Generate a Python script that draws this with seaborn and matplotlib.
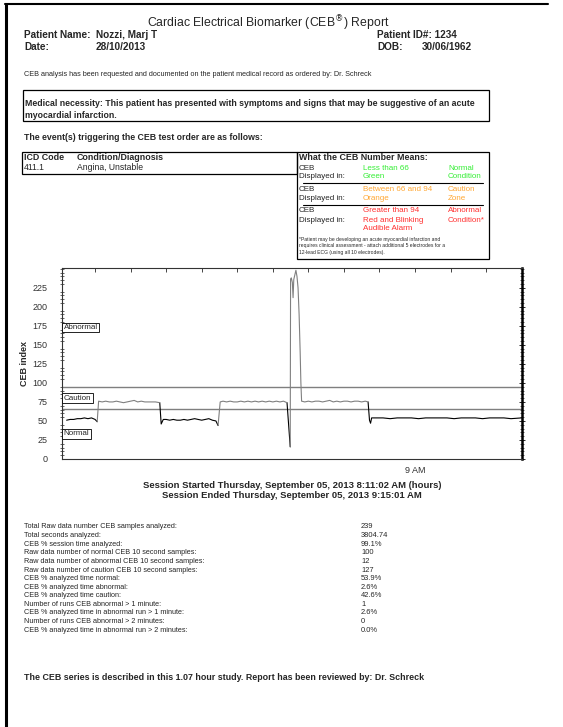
"""CEB report page: header text, legend tables, CEB index trace and summary stats."""
import matplotlib
matplotlib.use("Agg")
import matplotlib.pyplot as plt
import pandas as pd
import seaborn as sns
from matplotlib.patches import Rectangle
from matplotlib.ticker import FixedLocator, MultipleLocator

W, H = 563, 727

# CEB index trace, minutes after 8:00 AM
minutes = [
    11.0, 11.5, 12.0, 12.5, 13.0, 13.5, 14.0, 14.5, 15.0, 15.3,
    15.5, 16.0, 16.5, 17.0, 17.5, 18.0, 18.5, 19.0, 19.5, 20.0, 20.5, 21.0,
    21.5, 22.0, 22.5, 23.0, 23.5, 24.1,
    24.3, 24.6, 25.0, 25.5, 26.0, 26.5, 27.0, 27.5, 28.0, 28.5, 29.0, 29.5,
    30.0, 30.5, 31.0, 31.5, 32.0, 32.3,
    32.6, 33.0, 33.5, 34.0, 34.5, 35.0, 35.5, 36.0, 36.5, 37.0, 37.5, 38.0,
    38.5, 39.0, 39.5, 40.0, 40.5, 41.0, 41.5, 42.0,
    42.45, 42.5, 42.6, 42.75, 42.85, 42.95, 43.1, 43.25, 43.4, 43.55, 43.7,
    43.85, 43.95, 44.05,
    44.5, 45.0, 45.5, 46.0, 46.5, 47.0, 47.5, 48.0, 48.5, 49.0, 49.5, 50.0,
    50.5, 51.0, 51.5, 52.0, 52.5, 53.0, 53.4,
    53.6, 53.75, 53.9, 54.5, 55.5, 56.5, 57.5, 58.5, 59.5, 60.5, 61.5, 62.5,
    63.5, 64.5, 65.5, 66.5, 67.5, 68.5, 69.5, 70.5, 71.5, 72.5, 73.5, 75.0,
]
ceb_values = [
    51, 52, 52, 53, 53, 54, 53, 54, 52, 49,
    76, 75, 76, 75, 75, 76, 75, 74, 75, 76, 77, 75,
    76, 75, 75, 75, 75, 74,
    46, 52, 52, 51, 52, 51, 51, 52, 51, 52, 53, 52,
    51, 52, 53, 51, 50, 44,
    75, 76, 75, 76, 75, 75, 76, 75, 76, 75, 76, 75,
    76, 75, 76, 75, 76, 75, 76, 74,
    16, 236, 238, 232, 212, 236, 242, 248, 240, 225, 190,
    140, 100, 76,
    75, 76, 75, 76, 76, 75, 76, 77, 75, 76, 75, 76,
    76, 75, 76, 76, 75, 76, 75,
    51, 47, 54, 54, 54, 53, 54, 54, 54, 53, 54, 54,
    54, 54, 53, 54, 54, 54, 53, 54, 54, 54, 53, 54,
]

caution_level = 66
abnormal_level = 94
zone_labels = ["Abnormal", "Caution", "Normal"]
zone_label_y = [173, 80, 33]

legend_rows = [
    ("Less than 66", "Green", "", "Normal", "Condition"),
    ("Between 66 and 94", "Orange", "", "Caution", "Zone"),
    ("Greater than 94", "Red and Blinking", "Audible Alarm", "Abnormal", "Condition*"),
]
legend_colors = ["#33ee33", "#ffa733", "#ff3030"]

stat_labels = [
    "Total Raw data number CEB samples analyzed:",
    "Total seconds analyzed:",
    "CEB % session time analyzed:",
    "Raw data number of normal CEB 10 second samples:",
    "Raw data number of abnormal CEB 10 second samples:",
    "Raw data number of caution CEB 10 second samples:",
    "CEB % analyzed time normal:",
    "CEB % analyzed time abnormal:",
    "CEB % analyzed time caution:",
    "Number of runs CEB abnormal > 1 minute:",
    "CEB % analyzed time in abnormal run > 1 minute:",
    "Number of runs CEB abnormal > 2 minutes:",
    "CEB % analyzed time in abnormal run > 2 minutes:",
]
stat_values = ["239", "3804.74", "99.1%", "100", "12", "127", "53.9%",
               "2.6%", "42.6%", "1", "2.6%", "0", "0.0%"]

sns.set_style("white")
plt.rcParams["font.family"] = ["Liberation Sans", "DejaVu Sans"]

fig = plt.figure(figsize=(W / 100, H / 100), dpi=100)


def put(x, y, s, **kw):
    kw.setdefault("va", "center")
    kw.setdefault("fontsize", 6)
    fig.text(x / W, 1 - y / H, s, **kw)


def box(x0, y0, x1, y1, lw=0.9, color="black"):
    fig.add_artist(Rectangle((x0 / W, 1 - y1 / H), (x1 - x0) / W, (y1 - y0) / H,
                             transform=fig.transFigure, fill=False, lw=lw, ec=color))


def hline(x0, x1, y, lw=0.8, color="black"):
    fig.add_artist(plt.Line2D([x0 / W, x1 / W], [1 - y / H, 1 - y / H],
                              transform=fig.transFigure, lw=lw, color=color))


# page border
fig.add_artist(plt.Line2D([6 / W, 6 / W], [0, 1 - 4 / H], transform=fig.transFigure, lw=2.2, color="black"))
hline(5, 548, 4, lw=1.5)

# header
put(268, 23, r"Cardiac Electrical Biomarker (CEB$^{\circledR}$) Report", ha="center", fontsize=8.8)
put(24, 35, "Patient Name:", fontsize=7.2, weight="bold")
put(96, 35, "Nozzi, Marj T", fontsize=7.2, weight="bold")
put(377, 35, "Patient ID#: 1234", fontsize=7.2, weight="bold")
put(24, 47, "Date:", fontsize=7.2, weight="bold")
put(96, 47, "28/10/2013", fontsize=7.2, weight="bold")
put(377, 47, "DOB:", fontsize=7.2, weight="bold")
put(422, 47, "30/06/1962", fontsize=7.2, weight="bold")
put(24, 75, "CEB analysis has been requested and documented on the patient medical record as ordered by: Dr. Schreck",
    fontsize=5.2)

box(23, 90, 489, 121)
put(25, 104, "Medical necessity: This patient has presented with symptoms and signs that may be suggestive of an acute",
    fontsize=6.35, weight="bold")
put(25, 115, "myocardial infarction.", fontsize=6.35, weight="bold")

put(24, 137, "The event(s) triggering the CEB test order are as follows:", fontsize=6.3, weight="bold")

# diagnosis table
box(22, 152, 297, 174)
put(24, 158, "ICD Code", fontsize=6.4, weight="bold")
put(77, 158, "Condition/Diagnosis", fontsize=6.4, weight="bold")
put(24, 168, "411.1", fontsize=6.2)
put(77, 168, "Angina, Unstable", fontsize=6.2)

# meaning table
box(297, 152, 489, 259)
put(299, 158, "What the CEB Number Means:", fontsize=6.4, weight="bold")
for i, (what, shown, extra, status, status2) in enumerate(legend_rows):
    y0 = 168 + i * 21.5
    c = legend_colors[i]
    put(299, y0, "CEB", fontsize=5.8)
    put(299, y0 + 9, "Displayed in:", fontsize=5.8)
    put(363, y0, what, fontsize=5.8, color=c)
    put(363, y0 + 9, shown, fontsize=5.8, color=c)
    if extra:
        put(363, y0 + 18, extra, fontsize=5.8, color=c)
    put(448, y0, status, fontsize=5.8, color=c)
    put(448, y0 + 9, status2, fontsize=5.8, color=c)
    if i < 2:
        hline(303, 483, y0 + 15, lw=0.8)
put(299, 239, "*Patient may be developing an acute myocardial infarction and", fontsize=3.6)
put(299, 245.5, "requires clinical assessment - attach additional 5 electrodes for a", fontsize=3.6)
put(299, 252, "12-lead ECG (using all 10 electrodes).", fontsize=3.6)

# CEB trace
df = pd.DataFrame({"minute": minutes, "ceb": ceb_values})
df["zone"] = ["normal" if v < caution_level else "elevated" for v in df["ceb"]]
rows = []
seg = 0
prev = None
for r in df.itertuples():
    if prev is not None and r.zone != prev.zone:
        seg += 1
        rows.append({"minute": prev.minute, "ceb": prev.ceb, "zone": r.zone, "seg": seg})
    rows.append({"minute": r.minute, "ceb": r.ceb, "zone": r.zone, "seg": seg})
    prev = r
trace = pd.DataFrame(rows)

ax = fig.add_axes([62 / W, 1 - 459 / H, 460 / W, 191 / H])
ax.axhline(caution_level, color="#7f7f7f", lw=1.0, zorder=1)
ax.axhline(abnormal_level, color="#7f7f7f", lw=1.0, zorder=1)
sns.lineplot(data=trace, x="minute", y="ceb", hue="zone", units="seg", estimator=None,
             sort=False, palette={"normal": "black", "elevated": "#808080"},
             lw=0.8, legend=False, ax=ax, zorder=3)

for lab, yv in zip(zone_labels, zone_label_y):
    ax.text(10.6, yv, lab, fontsize=5.8, va="center", ha="left", zorder=4,
            bbox=dict(fc="white", ec="black", lw=0.6, pad=0.9))

ax.set_xlim(10.35, 75.05)
ax.set_ylim(0, 251)
ax.xaxis.set_major_locator(FixedLocator(list(range(15, 76, 5))))
ax.set_xticklabels(["9 AM" if m == 60 else "" for m in range(15, 76, 5)])
ax.yaxis.set_major_locator(MultipleLocator(25))
ax.yaxis.set_minor_locator(MultipleLocator(5))
ax.set_yticks(range(0, 226, 25))
ax.tick_params(axis="x", direction="in", top=True, length=3, width=0.6, labelsize=6.5,
               labelcolor="#333333", pad=5)
ax.tick_params(axis="y", which="major", direction="inout", length=5, width=0.7, labelsize=6.5,
               labelcolor="#333333", right=True, pad=8)
ax.tick_params(axis="y", which="minor", direction="inout", length=3, width=0.5, left=True, right=True)
for s in ["left", "bottom", "top"]:
    ax.spines[s].set_color("#333333")
    ax.spines[s].set_linewidth(0.8)
ax.spines["right"].set_color("black")
ax.spines["right"].set_linewidth(1.8)
ax.set_xlabel("")
ax.set_ylabel("CEB index", fontsize=6.5, weight="bold")
ax.yaxis.set_label_coords(-0.071, 0.5)

put(292, 486, "Session Started Thursday, September 05, 2013 8:11:02 AM (hours)",
    ha="center", fontsize=6.8, weight="bold")
put(292, 495, "Session Ended Thursday, September 05, 2013 9:15:01 AM",
    ha="center", fontsize=6.8, weight="bold")

# summary statistics
for i, (lab, val) in enumerate(zip(stat_labels, stat_values)):
    y0 = 527 + i * 8.6
    put(24, y0, lab, fontsize=5.2)
    put(361, y0, val, fontsize=5.4)

put(24, 678, "The CEB series is described in this 1.07 hour study. Report has been reviewed by: Dr. Schreck",
    fontsize=6.4, weight="bold")

fig.savefig("out.png", dpi=100)
